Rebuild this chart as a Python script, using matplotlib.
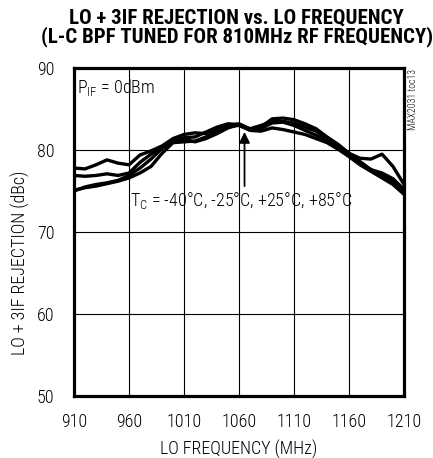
import numpy as np
import matplotlib
matplotlib.use("Agg")
import matplotlib.pyplot as plt

plt.rcParams['font.family'] = ['Roboto Condensed', 'DejaVu Sans']
plt.rcParams['font.weight'] = 'light'
plt.rcParams['axes.labelweight'] = 'light'
plt.rcParams['mathtext.fontset'] = 'custom'
plt.rcParams['mathtext.rm'] = 'Roboto Condensed:light'
plt.rcParams['mathtext.it'] = 'Roboto Condensed:light'

# LO frequency (MHz)
freq = [910, 920, 930, 940, 950, 960, 970, 980, 990, 1000, 1010,
        1020, 1030, 1040, 1050, 1060, 1070, 1080, 1090, 1100, 1110,
        1120, 1130, 1140, 1150, 1160, 1170, 1180, 1190, 1200, 1210]

# LO + 3IF rejection (dBc), one list per case temperature
rej_a = [77.8, 77.7, 78.2, 78.8, 78.4, 78.2, 79.4, 79.9, 80.5, 81.4, 81.9,
         82.1, 82.0, 82.6, 83.0, 83.2, 82.6, 83.0, 83.5, 83.5, 83.3,
         82.8, 82.3, 81.4, 80.6, 79.6, 79.0, 78.9, 79.5, 78.0, 75.8]
rej_b = [76.9, 76.8, 76.9, 77.1, 76.9, 77.2, 78.5, 79.5, 80.4, 81.2, 81.5,
         81.6, 82.2, 82.8, 83.2, 83.1, 82.5, 82.8, 83.8, 83.9, 83.7,
         83.2, 82.6, 81.6, 80.7, 79.6, 78.6, 77.6, 77.2, 76.5, 75.2]
rej_c = [75.1, 75.4, 75.6, 75.9, 76.2, 76.6, 77.2, 78.0, 79.6, 80.9, 81.0,
         81.1, 81.6, 82.3, 82.9, 83.0, 82.4, 82.3, 82.7, 82.5, 82.2,
         81.9, 81.4, 80.9, 80.1, 79.2, 78.2, 77.4, 76.6, 75.8, 74.6]
rej_d = [75.0, 75.5, 75.8, 76.0, 76.3, 76.9, 77.8, 78.9, 80.2, 81.0, 81.3,
         81.0, 81.4, 82.0, 82.7, 83.1, 82.5, 82.6, 83.3, 83.4, 83.0,
         82.4, 81.8, 81.2, 80.3, 79.3, 78.4, 77.6, 77.0, 76.2, 75.0]

xticks = [910, 960, 1010, 1060, 1110, 1160, 1210]
yticks = [50, 60, 70, 80, 90]

fig = plt.figure(figsize=(4.33, 4.58), dpi=100)
ax = fig.add_axes([0.171, 0.1354, 0.762, 0.716])

for r in [rej_a, rej_b, rej_c, rej_d]:
    ax.plot(freq, r, color='black', lw=2.4, solid_joinstyle='round')

ax.set_xlim(910, 1210)
ax.set_ylim(50, 90)
ax.set_xticks(xticks)
ax.set_yticks(yticks)
ax.grid(True, color='black', lw=0.8)
ax.tick_params(length=0, labelsize=13)
ax.tick_params(axis='x', pad=12)
ax.tick_params(axis='y', pad=14)
for s in ax.spines.values():
    s.set_linewidth(2.3)

ax.set_xlabel('LO FREQUENCY (MHz)', fontsize=13, labelpad=7)
ax.set_ylabel('LO + 3IF REJECTION (dBc)', fontsize=13)
ax.yaxis.set_label_coords(-0.133, 0.405)

ax.text(913, 87.6, r'P$_{\mathrm{IF}}$ = 0dBm', fontsize=13, va='center', ha='left')
ax.text(961, 73.9, r'T$_{\mathrm{C}}$ = -40°C, -25°C, +25°C, +85°C',
        fontsize=13, va='center', ha='left')
ax.annotate('', xy=(1065, 82.2), xytext=(1065, 75.6),
            arrowprops=dict(arrowstyle='-|>', color='black', lw=1.3,
                            mutation_scale=16, shrinkA=0, shrinkB=0))

fig.text(0.953, 0.85, 'MAX2031 toc13', rotation=90, fontsize=7,
         ha='center', va='top')

fig.text(0.547, 1 - 28 / 458,
         'LO + 3IF REJECTION vs. LO FREQUENCY\n(L-C BPF TUNED FOR 810MHz RF FREQUENCY)',
         fontsize=15, fontweight='heavy', ha='center', va='center',
         multialignment='center', linespacing=0.95)

fig.savefig('out.png', dpi=100)
